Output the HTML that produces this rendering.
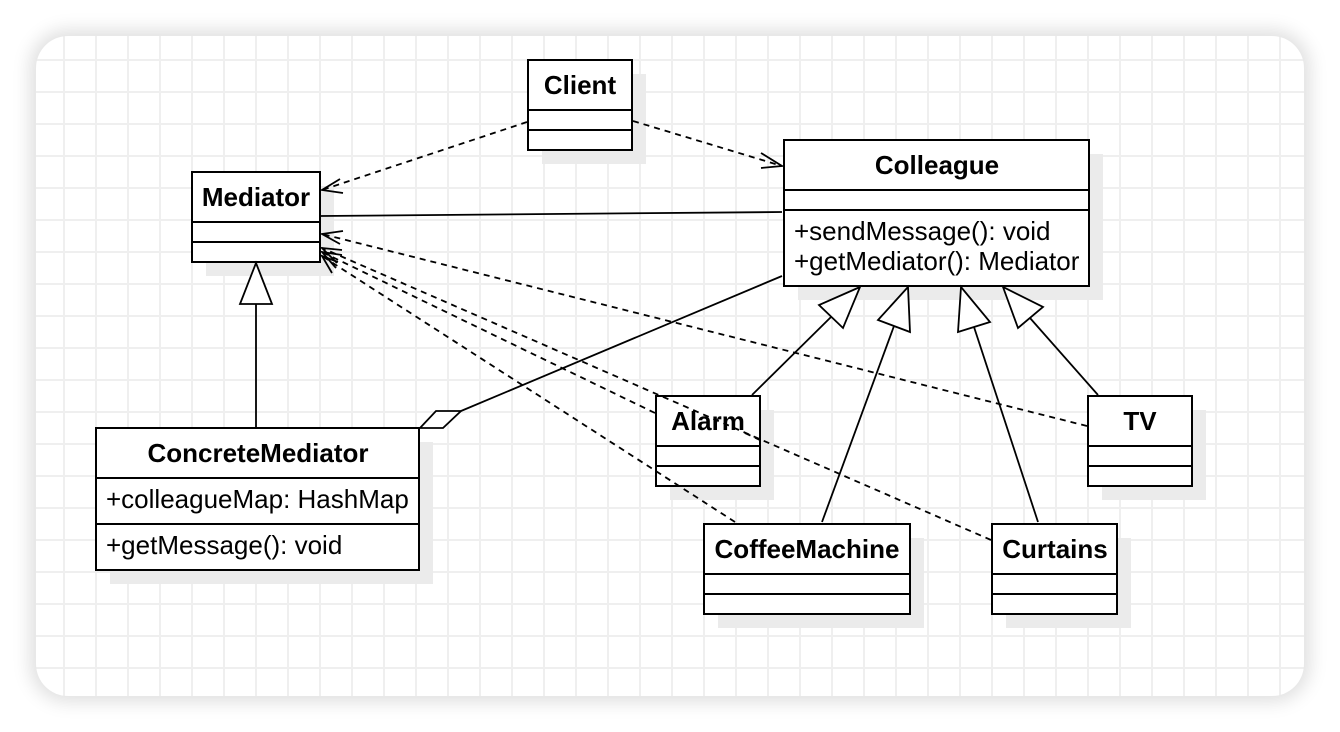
<!DOCTYPE html>
<html><head><style>
html,body{margin:0;padding:0;background:#fff;}
body{width:1340px;height:732px;overflow:hidden;position:relative;}
.card{position:absolute;left:36px;top:36px;width:1268px;height:660px;border-radius:32px;background-color:#fff;
background-image:linear-gradient(#efefef 2px,transparent 2px),linear-gradient(90deg,#efefef 2px,transparent 2px);
background-size:32px 32px;background-position:-5px -9px;box-shadow:0 0 18px 6px rgba(0,0,0,0.13);overflow:hidden;}
svg{position:absolute;left:0;top:0;}
text{font-family:"Liberation Sans",Arial,sans-serif;font-size:26px;fill:#000;}
.b{font-weight:bold;}
</style></head><body>
<div class="card"></div>
<svg width="1340" height="732" viewBox="0 0 1340 732">
<g fill="#ebebeb">
<rect x="542" y="74" width="104" height="90"/>
<rect x="798" y="154" width="305" height="146"/>
<rect x="206" y="186" width="128" height="90"/>
<rect x="110" y="442" width="323" height="142"/>
<rect x="670" y="410" width="104" height="90"/>
<rect x="1102" y="410" width="104" height="90"/>
<rect x="718" y="538" width="206" height="90"/>
<rect x="1006" y="538" width="125" height="90"/>
</g>
<g fill="#fff" stroke="#000" stroke-width="2">
<rect x="528" y="60" width="104" height="90"/><line x1="528" y1="110" x2="632" y2="110"/><line x1="528" y1="130" x2="632" y2="130"/>
<rect x="784" y="140" width="305" height="146"/><line x1="784" y1="190" x2="1089" y2="190"/><line x1="784" y1="210" x2="1089" y2="210"/>
<rect x="192" y="172" width="128" height="90"/><line x1="192" y1="222" x2="320" y2="222"/><line x1="192" y1="242" x2="320" y2="242"/>
<rect x="96" y="428" width="323" height="142"/><line x1="96" y1="478" x2="419" y2="478"/><line x1="96" y1="524" x2="419" y2="524"/>
<rect x="656" y="396" width="104" height="90"/><line x1="656" y1="446" x2="760" y2="446"/><line x1="656" y1="466" x2="760" y2="466"/>
<rect x="1088" y="396" width="104" height="90"/><line x1="1088" y1="446" x2="1192" y2="446"/><line x1="1088" y1="466" x2="1192" y2="466"/>
<rect x="704" y="524" width="206" height="90"/><line x1="704" y1="574" x2="910" y2="574"/><line x1="704" y1="594" x2="910" y2="594"/>
<rect x="992" y="524" width="125" height="90"/><line x1="992" y1="574" x2="1117" y2="574"/><line x1="992" y1="594" x2="1117" y2="594"/>
</g>
<g fill="none" stroke="#000" stroke-width="1.8">
<g stroke-dasharray="6,5">
<line x1="527" y1="122" x2="322" y2="190"/>
<line x1="633" y1="121" x2="782" y2="166"/>
<line x1="1087" y1="426" x2="322" y2="234"/>
<line x1="991" y1="540" x2="322" y2="248"/>
<line x1="655" y1="413" x2="322" y2="252"/>
<line x1="735" y1="522" x2="322" y2="256"/>
</g>
<polyline points="340,179 322,190 343,193"/>
<polyline points="761,153 782,166 761,168"/>
<polyline points="343,231 322,234 340,244"/>
<polyline points="342,250 322,248 337,263"/>
<polyline points="342,255 322,252 336,268"/>
<polyline points="338,262 322,256 332,273"/>
<line x1="321" y1="216" x2="782" y2="212"/>
<polygon fill="#fff" points="420,428 436,411 461,411 443,428"/>
<line x1="461" y1="411" x2="782" y2="276"/>
<line x1="256" y1="304" x2="256" y2="428"/>
<polygon fill="#fff" points="256,263 240,304 272,304"/>
<line x1="752" y1="395" x2="831" y2="317"/>
<polygon fill="#fff" points="860,287 819,305 843,328"/>
<line x1="822" y1="522" x2="894" y2="326"/>
<polygon fill="#fff" points="908,287 878,320 910,332"/>
<line x1="1038" y1="522" x2="974" y2="327"/>
<polygon fill="#fff" points="961,287 958,332 990,322"/>
<line x1="1098" y1="395" x2="1030" y2="318"/>
<polygon fill="#fff" points="1003,287 1018,328 1043,307"/>
</g>
<g>
<text class="b" x="580" y="94" text-anchor="middle">Client</text>
<text class="b" x="937" y="174" text-anchor="middle">Colleague</text>
<text x="794" y="240">+sendMessage(): void</text>
<text x="794" y="270">+getMediator(): Mediator</text>
<text class="b" x="256" y="206" text-anchor="middle">Mediator</text>
<text class="b" x="258" y="462" text-anchor="middle">ConcreteMediator</text>
<text x="106" y="508">+colleagueMap: HashMap</text>
<text x="106" y="554">+getMessage(): void</text>
<text class="b" x="708" y="430" text-anchor="middle">Alarm</text>
<text class="b" x="1140" y="430" text-anchor="middle">TV</text>
<text class="b" x="807" y="558" text-anchor="middle">CoffeeMachine</text>
<text class="b" x="1055" y="558" text-anchor="middle">Curtains</text>
</g>
<line x1="745" y1="433" x2="760" y2="440" stroke="#000" stroke-width="1.8" stroke-dasharray="6,5"/>
</svg>
</body></html>
